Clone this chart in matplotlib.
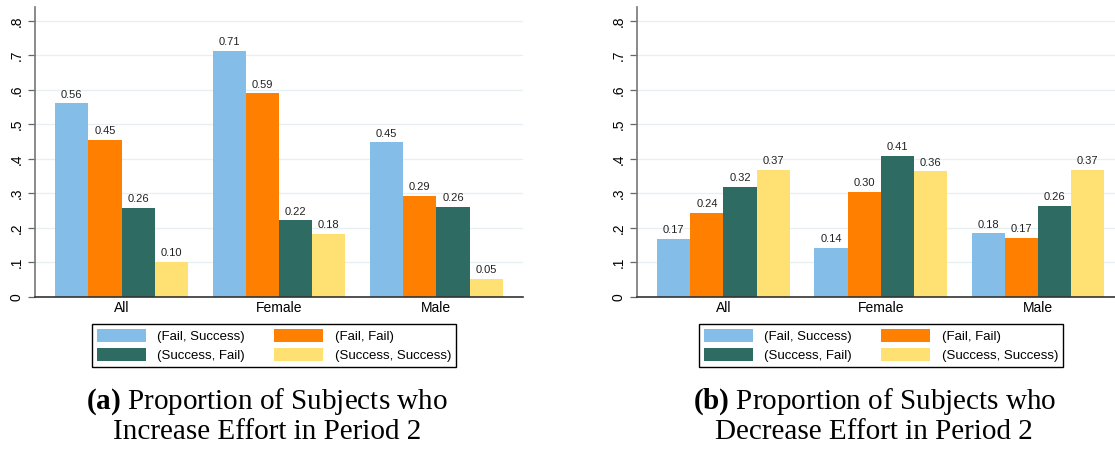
import numpy as np
import matplotlib
matplotlib.use("Agg")
from matplotlib import pyplot
from matplotlib.patches import Patch

pyplot.rcParams["mathtext.fontset"] = "custom"
pyplot.rcParams["mathtext.bf"] = "Liberation Serif:bold"
pyplot.rcParams["mathtext.rm"] = "Liberation Serif"

groups = ["All", "Female", "Male"]
series = ["(Fail, Success)", "(Fail, Fail)", "(Success, Fail)", "(Success, Success)"]
colors = ["#84bee8", "#ff7f00", "#2e6b63", "#ffe073"]

# proportions increasing effort in period 2
inc_fail_success = [0.561, 0.714, 0.448]
inc_fail_fail = [0.454, 0.590, 0.292]
inc_success_fail = [0.258, 0.222, 0.262]
inc_success_success = [0.101, 0.182, 0.052]

# proportions decreasing effort in period 2
dec_fail_success = [0.168, 0.143, 0.184]
dec_fail_fail = [0.243, 0.304, 0.171]
dec_success_fail = [0.319, 0.408, 0.263]
dec_success_success = [0.368, 0.364, 0.369]

yticks = [0, .1, .2, .3, .4, .5, .6, .7, .8]
ytick_labels = ["0", ".1", ".2", ".3", ".4", ".5", ".6", ".7", ".8"]

captions = [("(a)", "Increase"), ("(b)", "Decrease")]

W, H = 1115, 450
fig = pyplot.figure(figsize=(W / 100, H / 100), dpi=100)

bw = 0.211
x = np.arange(len(groups))


def panel(ax, data, xmax):
    for i, vals in enumerate(data):
        pos = x + (i - 1.5) * bw
        ax.bar(pos, vals, width=bw, color=colors[i], edgecolor="none", zorder=2)
        for px, v in zip(pos, vals):
            ax.text(px, v + 0.011, "%.2f" % v, ha="center", va="bottom",
                    fontsize=8, color="#222222", family="Liberation Sans")
    ax.set_xlim(-0.55, xmax)
    ax.set_ylim(0, 0.84)
    ax.set_yticks(yticks)
    ax.set_yticklabels(ytick_labels, rotation=90, va="center",
                       family="Liberation Sans", fontsize=10)
    ax.set_xticks(x)
    ax.set_xticklabels(groups, family="Liberation Sans", fontsize=10)
    ax.tick_params(axis="x", length=0, pad=3)
    ax.tick_params(axis="y", length=5, width=0.9, color="#666666", pad=3)
    ax.yaxis.grid(True, color="#e6eff1", linewidth=0.9, zorder=0)
    ax.set_axisbelow(True)
    for s in ["top", "right"]:
        ax.spines[s].set_visible(False)
    ax.spines["left"].set_color("#777777")
    ax.spines["left"].set_linewidth(1.2)
    ax.spines["bottom"].set_color("#333333")
    ax.spines["bottom"].set_linewidth(1.2)


y0, y1 = 297, 7
ax1 = fig.add_axes([35 / W, (H - y0) / H, 488 / W, (y0 - y1) / H])
panel(ax1, [inc_fail_success, inc_fail_fail, inc_success_fail, inc_success_success], 2.55)

ax2 = fig.add_axes([637 / W, (H - y0) / H, 478 / W, (y0 - y1) / H])
panel(ax2, [dec_fail_success, dec_fail_fail, dec_success_fail, dec_success_success], 2.49)

# legend filled row by row
order = [0, 2, 1, 3]
handles = [Patch(facecolor=colors[i], edgecolor="none") for i in order]
labels = [series[i] for i in order]
for cx, (tag, verb) in zip([274, 881], captions):
    fig.legend(handles, labels, ncol=2, loc="center", bbox_to_anchor=(cx / W, 1 - 345.5 / H),
               frameon=True, fancybox=False, edgecolor="black", framealpha=1,
               handlelength=3.7, handleheight=1.1, handletextpad=0.9, columnspacing=2.2,
               labelspacing=0.4, borderpad=0.4,
               prop={"family": "Liberation Sans", "size": 9.5})
    fig.text(cx / W - 0.006, 1 - 402 / H, r"$\mathbf{%s}$ Proportion of Subjects who" % tag,
             ha="center", va="center", fontsize=21, family="Liberation Serif")
    fig.text(cx / W - 0.006, 1 - 432 / H, "%s Effort in Period 2" % verb,
             ha="center", va="center", fontsize=21, family="Liberation Serif")

fig.savefig("out.png", dpi=100)
